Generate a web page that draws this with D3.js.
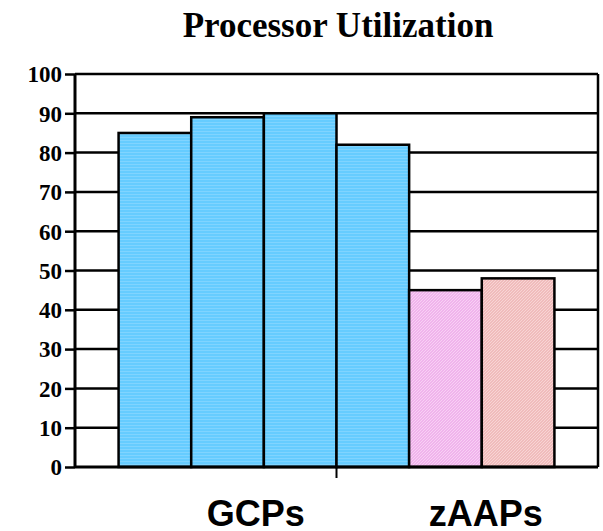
<!DOCTYPE html>
<html lang="en">
<head>
  <meta charset="UTF-8" />
  <title>Processor Utilization</title>
  <style>
    body {
      margin: 0;
      background: white;
    }
    .title {
      font-family: "Liberation Serif", "Times New Roman", serif;
      font-weight: bold;
      font-size: 35px;
      fill: #000;
    }
    .cat-label {
      font-family: "Liberation Sans", Arial, sans-serif;
      font-weight: bold;
      font-size: 36px;
      fill: #000;
    }
  </style>
</head>
<body>
  <svg width="603" height="531"></svg>

  <script src="https://d3js.org/d3.v7.min.js"></script>
  <script>
    const bars = ["GCP 1", "GCP 2", "GCP 3", "GCP 4", "zAAP 1", "zAAP 2"];
    const utilization = [85, 89, 90, 82, 45, 48];
    const barGroup = ["GCPs", "GCPs", "GCPs", "GCPs", "zAAPs", "zAAPs"];
    const categories = ["GCPs", "zAAPs"];
    const yTicks = [0, 10, 20, 30, 40, 50, 60, 70, 80, 90, 100];

    const data = bars.map((b, i) => ({ id: b, value: utilization[i], group: barGroup[i], idx: i }));

    const svg = d3.select("svg");
    const margin = { top: 74, right: 5, bottom: 64, left: 75 };
    const width = 603, height = 531;
    const plotW = width - margin.left - margin.right;
    const plotH = height - margin.top - margin.bottom;

    // patterns imitating the old hatched fills
    const defs = svg.append("defs");
    const blue = defs.append("pattern")
      .attr("id", "pat-blue").attr("width", 4).attr("height", 3)
      .attr("patternUnits", "userSpaceOnUse");
    blue.append("rect").attr("width", 4).attr("height", 3).attr("fill", "#66ccff");
    blue.append("rect").attr("width", 4).attr("height", 1).attr("fill", "#80d4ff");

    function diag(id, base, light) {
      const p = defs.append("pattern")
        .attr("id", id).attr("width", 3).attr("height", 3)
        .attr("patternUnits", "userSpaceOnUse");
      p.append("rect").attr("width", 3).attr("height", 3).attr("fill", base);
      p.append("path").attr("d", "M0,3 L3,0").attr("stroke", light).attr("stroke-width", 1);
    }
    diag("pat-pink", "#f0b4ec", "#f8d0f4");
    diag("pat-salmon", "#f0bcbc", "#f8d4d4");
    const fills = ["url(#pat-blue)", "url(#pat-blue)", "url(#pat-blue)", "url(#pat-blue)", "url(#pat-pink)", "url(#pat-salmon)"];

    const g = svg.append("g").attr("transform", `translate(${margin.left},${margin.top})`);

    const y = d3.scaleLinear().domain([0, 100]).range([plotH, 0]);
    const x = d3.scaleBand().domain(bars).range([0, plotW]).paddingOuter(0.6).paddingInner(0);

    // gridlines
    g.append("g")
      .selectAll("line")
      .data(yTicks.filter(t => t > 0))
      .join("line")
        .attr("x1", 0).attr("x2", plotW)
        .attr("y1", d => y(d)).attr("y2", d => y(d))
        .attr("stroke", "#000").attr("stroke-width", 2.5);

    // right border
    g.append("line")
      .attr("x1", plotW).attr("x2", plotW)
      .attr("y1", y(100)).attr("y2", y(0))
      .attr("stroke", "#000").attr("stroke-width", 2.5);

    // bars
    g.append("g")
      .selectAll("rect")
      .data(data)
      .join("rect")
        .attr("x", d => x(d.id))
        .attr("y", d => y(d.value))
        .attr("width", x.bandwidth())
        .attr("height", d => y(0) - y(d.value))
        .attr("fill", d => fills[d.idx])
        .attr("stroke", "#000")
        .attr("stroke-width", 2.5);

    // y axis
    const yAxis = g.append("g")
      .call(d3.axisLeft(y).tickValues(yTicks).tickSize(10).tickPadding(3));
    yAxis.attr("font-family", null).attr("font-size", null);
    yAxis.select(".domain").attr("stroke-width", 3).attr("d", `M0,${y(100)}V${y(0)}`);
    yAxis.selectAll(".tick line").attr("stroke-width", 2.5);
    yAxis.selectAll(".tick text")
      .style("font-family", "'Liberation Serif', 'Times New Roman', serif")
      .style("font-weight", "bold")
      .style("font-size", "23px")
      .attr("dy", "0.34em")
      .attr("fill", "#000");

    // x axis line and category divider tick
    g.append("line")
      .attr("x1", 0).attr("x2", plotW)
      .attr("y1", y(0)).attr("y2", y(0))
      .attr("stroke", "#000").attr("stroke-width", 3);

    const catX = d3.scaleBand().domain(categories).range([0, plotW]);
    g.append("line")
      .attr("x1", catX("zAAPs")).attr("x2", catX("zAAPs"))
      .attr("y1", y(0)).attr("y2", y(0) + 11)
      .attr("stroke", "#000").attr("stroke-width", 2);

    // category labels, centred under their bars
    g.append("g")
      .selectAll("text")
      .data(categories)
      .join("text")
        .attr("class", "cat-label")
        .attr("text-anchor", "middle")
        .attr("x", c => {
          const members = data.filter(d => d.group === c);
          return d3.mean(members, d => x(d.id) + x.bandwidth() / 2) + (c === "GCPs" ? -8 : 4);
        })
        .attr("y", plotH + 59)
        .text(c => c);

    svg.append("text")
      .attr("class", "title")
      .attr("text-anchor", "middle")
      .attr("x", 338)
      .attr("y", 37)
      .text("Processor Utilization");
  </script>
</body>
</html>
